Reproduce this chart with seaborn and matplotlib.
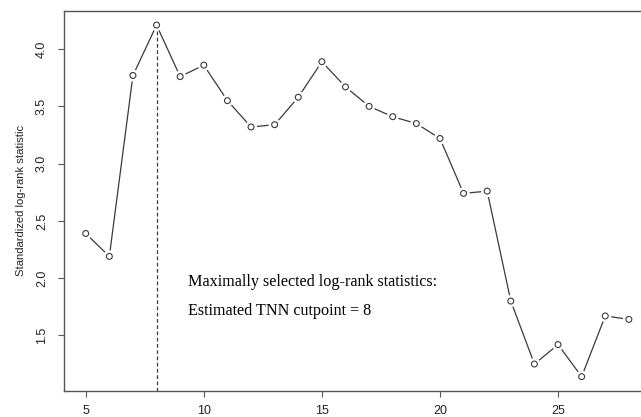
import matplotlib
matplotlib.use("Agg")
import matplotlib.pyplot as plt
import seaborn as sns
import pandas as pd

# TNN cutpoints and standardized log-rank statistics
cutpoints = [5, 6, 7, 8, 9, 10, 11, 12, 13, 14, 15, 16, 17, 18, 19, 20,
             21, 22, 23, 24, 25, 26, 27, 28]
stats = [2.39, 2.19, 3.77, 4.21, 3.76, 3.86, 3.55, 3.32, 3.34, 3.58, 3.89, 3.67,
         3.50, 3.41, 3.35, 3.22, 2.74, 2.76, 1.80, 1.25, 1.42, 1.14, 1.67, 1.64]
best_cut = 8
best_stat = 4.21
x_ticks = [5, 10, 15, 20, 25]
y_ticks = [1.5, 2.0, 2.5, 3.0, 3.5, 4.0]
note_lines = ["Maximally selected log-rank statistics:",
              "Estimated TNN cutpoint = 8"]

df = pd.DataFrame({"cut": cutpoints, "stat": stats})

sns.set_style("white")
plt.rcParams["font.family"] = ["Liberation Sans", "DejaVu Sans"]

line_col = "#3a3a3a"
box_col = "#555555"

fig = plt.figure(figsize=(6.41, 4.17), dpi=100)
ax = fig.add_axes([64 / 641, 26.3 / 417, 586.6 / 641, 379.7 / 417])

# R style axis ranges (4% padding)
xr = max(cutpoints) - min(cutpoints)
yr = max(stats) - min(stats)
ax.set_xlim(min(cutpoints) - 0.04 * xr, max(cutpoints) + 0.04 * xr)
ax.set_ylim(min(stats) - 0.04 * yr, max(stats) + 0.04 * yr)

ax.vlines(best_cut, ax.get_ylim()[0], best_stat, colors=line_col,
          linestyles=(0, (3, 2)), linewidth=0.9, zorder=1)

sns.lineplot(data=df, x="cut", y="stat", ax=ax, color=line_col,
             linewidth=0.9, zorder=2)
# white halo to mimic R type="b" gaps
sns.scatterplot(data=df, x="cut", y="stat", ax=ax, s=75, color="white",
                edgecolor="none", zorder=3)
sns.scatterplot(data=df, x="cut", y="stat", ax=ax, s=18, facecolor="none",
                edgecolor=line_col, linewidth=0.8, zorder=4)

for i, txt in enumerate(note_lines):
    ax.text(9.31, [1.931, 1.677][i], txt, family=["Liberation Serif"],
            fontsize=11.6, color="black", va="baseline", ha="left")

ax.set_xticks(x_ticks)
ax.set_yticks(y_ticks)
ax.set_xticklabels([str(t) for t in x_ticks])
ax.set_yticklabels([f"{t:.1f}" for t in y_ticks])
ax.tick_params(axis="both", direction="out", length=4.5, width=0.8,
               color=box_col, labelsize=9, labelcolor="#222222",
               bottom=True, left=True)
ax.tick_params(axis="x", pad=6)
ax.tick_params(axis="y", pad=7)
for lab in ax.get_yticklabels():
    lab.set_rotation(90)
    lab.set_va("center")

ax.set_xlabel("")
ax.set_ylabel("Standardized log-rank statistic", fontsize=8.1, color="#222222")
ax.yaxis.set_label_coords(-0.065, 0.5)

for side in ["left", "right", "top", "bottom"]:
    ax.spines[side].set_visible(True)
    ax.spines[side].set_color(box_col)
    ax.spines[side].set_linewidth(1.0)

fig.savefig("out.png", dpi=100)
